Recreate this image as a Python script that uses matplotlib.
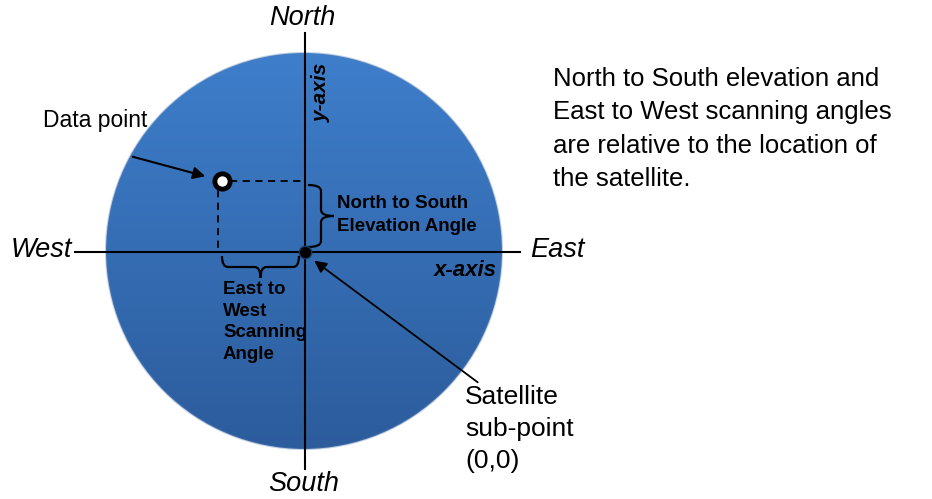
import numpy as np
import matplotlib.pyplot as plt
from matplotlib.patches import Circle, FancyArrowPatch, PathPatch
from matplotlib.path import Path

plt.rcParams['font.family'] = ['Liberation Sans', 'DejaVu Sans']

# diagram geometry (pixel space of the picture)
center = (304, 251)
radius = 198
data_pt = (222, 181)
sat_pt = (305, 252)
compass = ['North', 'South', 'West', 'East']
compass_xy = [(302, 18), (304, 484), (41, 250), (557, 250)]
note = ("North to South elevation and\nEast to West scanning angles\n"
        "are relative to the location of\nthe satellite.")

fig = plt.figure(figsize=(9.32, 4.99), dpi=100)
ax = fig.add_axes([0, 0, 1, 1])
ax.set_xlim(0, 932)
ax.set_ylim(499, 0)
ax.axis('off')

# blue disc with vertical gradient
grad = np.linspace(0, 1, 256).reshape(-1, 1)
top = np.array([62, 126, 203]) / 255
bot = np.array([44, 92, 156]) / 255
img = top + (bot - top) * grad[..., None]
img = np.repeat(img, 2, axis=1)
im = ax.imshow(img, extent=(center[0] - radius, center[0] + radius,
                            center[1] + radius, center[1] - radius),
               aspect='auto', zorder=1)
disc = Circle(center, radius, transform=ax.transData, facecolor='none')
im.set_clip_path(disc)
ax.add_patch(Circle(center, radius, facecolor='none',
                    edgecolor=(0.35, 0.5, 0.7, 0.35), lw=1.5, zorder=2))

# axes lines
ax.plot([75, 520], [251.5, 251.5], color='black', lw=1.5, zorder=3)
ax.plot([305, 305], [33, 469], color='black', lw=1.5, zorder=3)

# dashed projections
ax.plot([230, 305], [data_pt[1], data_pt[1]], color='black', lw=1.3,
        ls=(0, (4, 3)), zorder=3)
ax.plot([218, 218], [190, 251], color='black', lw=1.3,
        ls=(0, (4, 3)), zorder=3)

# data point and satellite
ax.plot(*data_pt, marker='o', ms=11, mfc='white', mec='black', mew=3.5, zorder=5)
ax.plot(*sat_pt, marker='o', ms=9, mfc='black', mec='#1a3a66', mew=1, zorder=5)


def brace(x0, y0, x1, y1, depth):
    # curly brace from p0 to p1, tip pushed out by depth
    p0 = np.array([x0, y0], float)
    p1 = np.array([x1, y1], float)
    u = (p1 - p0) / np.hypot(*(p1 - p0))
    n = np.array([u[1], -u[0]]) * depth
    m = (p0 + p1) / 2
    verts = [p0, p0 + n * 0.5, p0 + n * 0.5 + u * 6,
             m + n * 0.5 - u * 6, m + n * 0.5, m + n,
             m + n, m + n * 0.5, m + n * 0.5 + u * 6,
             p1 + n * 0.5 - u * 6, p1 + n * 0.5, p1]
    codes = [Path.MOVETO, Path.CURVE3, Path.CURVE3, Path.LINETO,
             Path.CURVE3, Path.CURVE3,
             Path.MOVETO, Path.CURVE3, Path.CURVE3, Path.LINETO,
             Path.CURVE3, Path.CURVE3]
    ax.add_patch(PathPatch(Path(verts, codes), fill=False, lw=1.6,
                           color='black', zorder=4))


brace(308, 185, 308, 247, 26)    # vertical brace, tip to the right
brace(222, 256, 299, 256, -22)   # horizontal brace, tip downward

# labels
for lab, (x, y) in zip(compass, compass_xy):
    ax.text(x, y, lab, fontsize=19.5, style='italic', ha='center', va='center',
            zorder=6)

ax.text(337, 215, 'North to South\nElevation Angle', fontsize=13.5,
        fontweight='bold', ha='left', va='center', linespacing=1.4, zorder=6)
ax.text(223, 322, 'East to\nWest\nScanning\nAngle', fontsize=13.5,
        fontweight='bold', ha='left', va='center', linespacing=1.35, zorder=6)
ax.text(497, 270, 'x-axis', fontsize=16, fontweight='bold', style='italic',
        ha='right', va='center', zorder=6)
ax.text(321, 92, 'y-axis', fontsize=15, fontweight='bold', style='italic',
        ha='center', va='center', rotation=90, zorder=6)

ax.text(43, 120, 'Data point', fontsize=16.5, ha='left', va='center', zorder=6)
ax.add_patch(FancyArrowPatch((130, 156), (208, 177), arrowstyle='-|>',
                             mutation_scale=18, lw=1.5, color='black', zorder=6))

ax.text(465, 429, 'Satellite\nsub-point\n(0,0)', fontsize=19, ha='left',
        va='center', linespacing=1.4, zorder=6)
ax.add_patch(FancyArrowPatch((480, 384), (312, 259), arrowstyle='-|>',
                             mutation_scale=18, lw=1.3, color='black', zorder=6))

ax.text(553, 129, note, fontsize=18.5, ha='left', va='center',
        linespacing=1.5, zorder=6)

fig.savefig('out.png', dpi=100)
